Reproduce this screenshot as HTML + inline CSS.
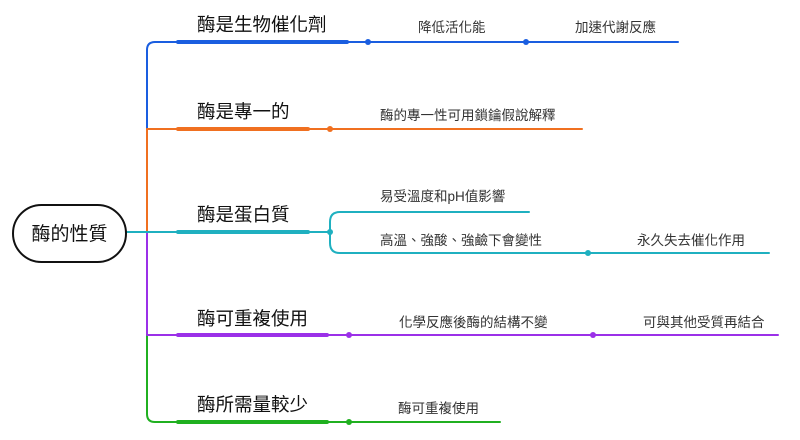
<!DOCTYPE html>
<html><head><meta charset="utf-8"><style>
html,body{margin:0;padding:0;background:#fff;}
svg text{font-family:"Liberation Sans","Noto Sans CJK TC",sans-serif;}
</style></head><body>
<svg width="800" height="435" viewBox="0 0 800 435" xmlns="http://www.w3.org/2000/svg">
<g fill="none" stroke-linecap="round">
<path d="M178 42 H155 Q147 42 147 50 V129" stroke="#1a5ee0" stroke-width="2"/>
<path d="M147 129 V232" stroke="#f07020" stroke-width="2"/>
<path d="M147 232 V335" stroke="#9b30e8" stroke-width="2"/>
<path d="M147 335 V414 Q147 422 155 422 H178" stroke="#20b020" stroke-width="2"/>
<path d="M126 232 H178" stroke="#1fb0c0" stroke-width="2"/>
<path d="M147 129 H178" stroke="#f07020" stroke-width="2"/>
<path d="M147 335 H178" stroke="#9b30e8" stroke-width="2"/>
<path d="M178 42 H347" stroke="#1a5ee0" stroke-width="4"/>
<path d="M347 42 H678" stroke="#1a5ee0" stroke-width="2"/>
<path d="M178 129 H308" stroke="#f07020" stroke-width="4"/>
<path d="M308 129 H582" stroke="#f07020" stroke-width="2"/>
<path d="M178 232 H308" stroke="#1fb0c0" stroke-width="4"/>
<path d="M308 232 H330" stroke="#1fb0c0" stroke-width="2"/>
<path d="M529 212 H340 Q330 212 330 222 V243 Q330 253 340 253 H769" stroke="#1fb0c0" stroke-width="2"/>
<path d="M178 335 H327" stroke="#9b30e8" stroke-width="4"/>
<path d="M327 335 H778" stroke="#9b30e8" stroke-width="2"/>
<path d="M178 422 H327" stroke="#20b020" stroke-width="4"/>
<path d="M327 422 H500" stroke="#20b020" stroke-width="2"/>
</g>
<g>
<circle cx="368" cy="42" r="3" fill="#1a5ee0"/><circle cx="526" cy="42" r="3" fill="#1a5ee0"/>
<circle cx="330" cy="129" r="3" fill="#f07020"/>
<circle cx="330" cy="232" r="3" fill="#1fb0c0"/><circle cx="588" cy="253" r="3" fill="#1fb0c0"/>
<circle cx="349" cy="335" r="3" fill="#9b30e8"/><circle cx="593" cy="335" r="3" fill="#9b30e8"/>
<circle cx="349" cy="422" r="3" fill="#20b020"/>
</g>
<rect x="13" y="205" width="113" height="57" rx="28.5" fill="#fff" stroke="#111" stroke-width="2"/>
<text x="69.5" y="240" font-size="19" text-anchor="middle" fill="#111">酶的性質</text>
<g font-size="18.5" fill="#111">
<text x="197" y="31">酶是生物催化劑</text>
<text x="197" y="118">酶是專一的</text>
<text x="197" y="221">酶是蛋白質</text>
<text x="197" y="325">酶可重複使用</text>
<text x="197" y="411">酶所需量較少</text>
</g>
<g font-size="13.5" fill="#333">
<text x="418" y="32">降低活化能</text>
<text x="575" y="32">加速代謝反應</text>
<text x="380" y="120">酶的專一性可用鎖鑰假說解釋</text>
<text x="380" y="201">易受溫度和pH值影響</text>
<text x="380" y="245">高溫、強酸、強鹼下會變性</text>
<text x="637" y="245">永久失去催化作用</text>
<text x="399" y="327">化學反應後酶的結構不變</text>
<text x="643" y="327">可與其他受質再結合</text>
<text x="398" y="413">酶可重複使用</text>
</g>
</svg>
</body></html>
